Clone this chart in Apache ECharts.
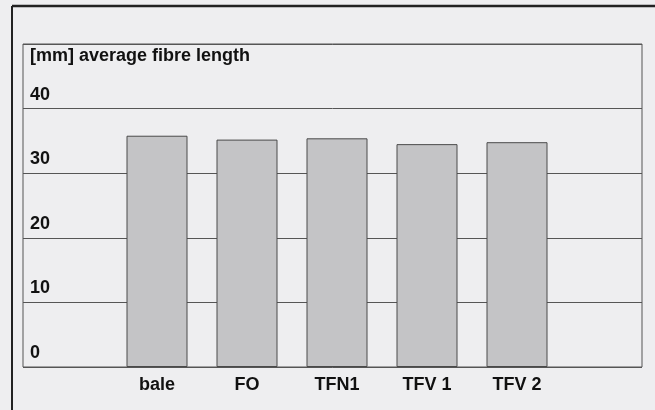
<!DOCTYPE html>
<html>
<head>
<meta charset="utf-8">
<script src="https://cdn.jsdelivr.net/npm/echarts@6/dist/echarts.min.js"></script>
<style>
  html, body { margin: 0; padding: 0; background: #eeeef0; }
  #chart { width: 655px; height: 410px; }
</style>
</head>
<body>
<div id="chart"></div>
<script>
// average fibre length per sample
const categories = ['bale', 'FO', 'TFN1', 'TFV 1', 'TFV 2'];
const fibreLength = [35.8, 35.2, 35.4, 34.5, 34.8];
const yTicks = [0, 10, 20, 30, 40];

const FONT = '"Liberation Sans", Arial, sans-serif';

const chart = echarts.init(document.getElementById('chart'));

chart.setOption({
  backgroundColor: '#eeeef0',
  animation: false,
  title: {
    text: '[mm] average fibre length',
    left: 25, top: 42,
    textStyle: { fontFamily: FONT, fontSize: 18, fontWeight: 'bold', color: '#111' }
  },
  graphic: [
    // scan frame: left rule and thick top rule
    { type: 'line', shape: { x1: 12, y1: 6, x2: 12, y2: 410 }, style: { stroke: '#222', lineWidth: 2 } },
    { type: 'line', shape: { x1: 12, y1: 6, x2: 655, y2: 6 }, style: { stroke: '#222', lineWidth: 2.5 } }
  ],
  grid: [
    { left: 23, right: 13, top: 44, bottom: 43, show: true, borderColor: '#555', borderWidth: 1 },
    { left: 112, right: 93, top: 44, bottom: 43 }
  ],
  xAxis: [
    { gridIndex: 0, type: 'value', show: false },
    {
      gridIndex: 1, type: 'category', data: categories,
      axisLine: { show: false }, axisTick: { show: false },
      axisLabel: { margin: 9, fontFamily: FONT, fontSize: 18, fontWeight: 'bold', color: '#111' }
    }
  ],
  yAxis: [
    {
      gridIndex: 0, type: 'value', min: 0, max: 50, interval: 10,
      axisLine: { show: false }, axisTick: { show: false },
      splitLine: { lineStyle: { color: '#555', width: 1 } },
      axisLabel: {
        inside: true, margin: 7, verticalAlign: 'bottom', padding: [0, 0, 5, 0],
        fontFamily: FONT, fontSize: 18, fontWeight: 'bold', color: '#111',
        formatter: v => yTicks.includes(v) ? String(v) : ''
      }
    },
    { gridIndex: 1, type: 'value', min: 0, max: 50, show: false }
  ],
  series: [{
    type: 'bar',
    xAxisIndex: 1, yAxisIndex: 1,
    data: fibreLength,
    barWidth: 61,
    itemStyle: { color: '#c4c4c6', borderColor: '#4a4a4a', borderWidth: 1 }
  }]
});
</script>
</body>
</html>
